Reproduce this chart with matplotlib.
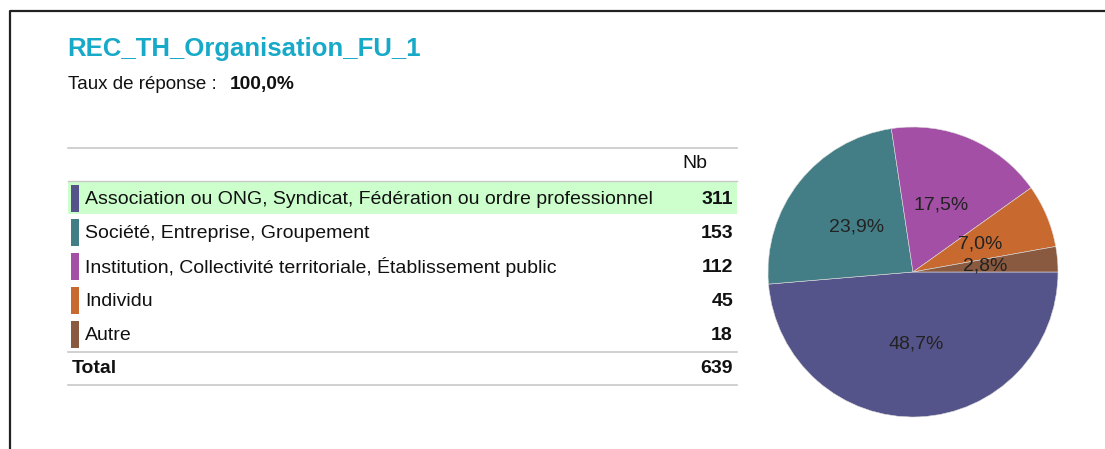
import matplotlib
matplotlib.use("Agg")
import matplotlib.pyplot as plt
from matplotlib.patches import Rectangle

plt.rcParams["font.family"] = ["Liberation Sans", "DejaVu Sans"]

# data
TITLE = "REC_TH_Organisation_FU_1"
RESPONSE_RATE = "100,0%"
categories = [
    "Association ou ONG, Syndicat, Fédération ou ordre professionnel",
    "Société, Entreprise, Groupement",
    "Institution, Collectivité territoriale, Établissement public",
    "Individu",
    "Autre",
]
counts = [311, 153, 112, 45, 18]
colors = ["#55548A", "#437E86", "#A24FA5", "#C86A30", "#8A5A40"]

W, H = 1105, 449
DPI = 100
FS = 14

fig = plt.figure(figsize=(W / DPI, H / DPI), dpi=DPI)

# full-figure pixel axes for frame and table
ax = fig.add_axes([0, 0, 1, 1])
ax.set_xlim(0, W)
ax.set_ylim(H, 0)
ax.axis("off")

# frame (left + top)
ax.plot([9.5, 9.5, W], [H, 10.5, 10.5], color="#222222", lw=1.6, solid_capstyle="butt")

ax.text(67, 56, TITLE, fontsize=18.5, fontweight="bold", color="#17A9C8", va="baseline")
ax.text(68, 89, "Taux de réponse : ", fontsize=13.5, color="#111111", va="baseline")
ax.text(230, 89, RESPONSE_RATE, fontsize=13.8, fontweight="bold", color="#111111", va="baseline")

x0, x1 = 68, 737
line_col = "#C8C8C8"
ax.plot([x0, x1], [147.5, 147.5], color=line_col, lw=1.2)
ax.text(707, 164, "Nb", fontsize=FS, ha="right", va="center", color="#111111")
ax.plot([x0, x1], [181, 181], color=line_col, lw=1.0)

row_top = 181.5
row_h = 34
for i, (cat, n, c) in enumerate(zip(categories, counts, colors)):
    y = row_top + i * row_h
    if i == 0:
        ax.add_patch(Rectangle((x0, y), x1 - x0, row_h - 1.5, facecolor="#CCFFCC", edgecolor="none"))
    ax.add_patch(Rectangle((71, y + 3), 8, row_h - 7, facecolor=c, edgecolor="none"))
    yc = y + row_h / 2 + 0.5
    ax.text(85, yc, cat, fontsize=FS, va="center", color="#111111")
    ax.text(733, yc, str(n), fontsize=FS, fontweight="bold", ha="right", va="center", color="#111111")

y_line = row_top + len(categories) * row_h
ax.plot([x0, x1], [y_line, y_line], color=line_col, lw=1.2)
ax.text(72, y_line + 17, "Total", fontsize=FS, fontweight="bold", va="center", color="#111111")
ax.text(733, y_line + 17, str(sum(counts)), fontsize=FS, fontweight="bold", ha="right", va="center",
        color="#111111")
ax.plot([x0, x1], [y_line + 33.5, y_line + 33.5], color=line_col, lw=1.2)

# pie
cx, cy, r = 913, 272, 145
pax = fig.add_axes([(cx - r) / W, (H - cy - r) / H, 2 * r / W, 2 * r / H])
wedges, texts, autotexts = pax.pie(
    counts, colors=colors, startangle=0, counterclock=False,
    autopct=lambda p: f"{p:.1f}%".replace(".", ","), pctdistance=0.5,
    wedgeprops={"linewidth": 0.4, "edgecolor": "#dddddd"},
    textprops={"fontsize": 14, "color": "#222222"},
)
pax.set_xlim(-1, 1)
pax.set_ylim(-1, 1)
pax.set_aspect("equal")

fig.savefig("out.png", dpi=DPI)
